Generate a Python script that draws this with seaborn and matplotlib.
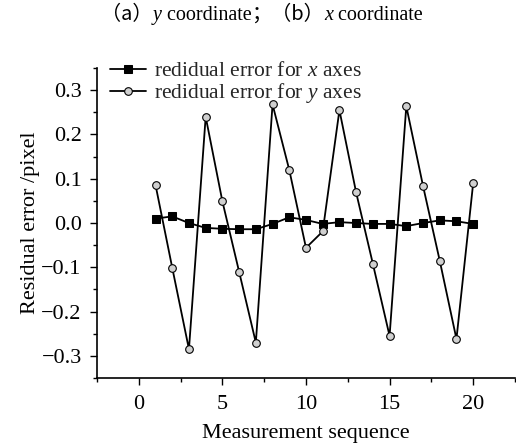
import matplotlib
matplotlib.use("Agg")
import matplotlib.pyplot as plt
import seaborn as sns
import pandas as pd
import numpy as np
from matplotlib.ticker import MultipleLocator

sequence = list(range(1, 21))
x_err = [0.010, 0.015, 0.000, -0.011, -0.013, -0.014, -0.014, -0.002, 0.013, 0.007,
         -0.002, 0.002, 0.000, -0.002, -0.002, -0.007, 0.000, 0.006, 0.004, -0.002]
y_err = [0.086, -0.101, -0.285, 0.240, 0.049, -0.110, -0.270, 0.268, 0.120, -0.056,
         -0.019, 0.255, 0.069, -0.092, -0.255, 0.264, 0.084, -0.085, -0.262, 0.090]
label_x = "redidual error for $\\mathit{x}$ axes"
label_y = "redidual error for $\\mathit{y}$ axes"

sns.set_theme(style="ticks")
plt.rcParams["font.family"] = ["Liberation Serif", "DejaVu Serif"]
plt.rcParams["mathtext.fontset"] = "custom"
plt.rcParams["mathtext.rm"] = "Liberation Serif"
plt.rcParams["mathtext.it"] = "Liberation Serif:italic"

fig = plt.figure(figsize=(5.16, 4.45), dpi=100)
ax = fig.add_axes([0.188, 0.1506, 0.810, 0.6964])

df_x = pd.DataFrame({"seq": sequence, "err": x_err})
df_y = pd.DataFrame({"seq": sequence, "err": y_err})

sns.lineplot(data=df_x, x="seq", y="err", ax=ax, color="black", lw=1.3,
             marker="s", markersize=6, markerfacecolor="black",
             markeredgecolor="black", label=label_x)
sns.lineplot(data=df_y, x="seq", y="err", ax=ax, color="black", lw=1.3,
             marker="o", markersize=5.5, markerfacecolor="#d0d0d0",
             markeredgecolor="black", markeredgewidth=0.8, label=label_y)

ax.set_xlim(-2.5, 22.5)
ax.set_ylim(-0.35, 0.35)
ax.xaxis.set_major_locator(MultipleLocator(5))
ax.xaxis.set_minor_locator(MultipleLocator(2.5))
ax.yaxis.set_minor_locator(MultipleLocator(0.05))
ax.set_yticks([-0.3, -0.2, -0.1, 0.0, 0.1, 0.2, 0.3])
ax.set_yticklabels(["\u22120.3", "\u22120.2", "\u22120.1", "0.0", "0.1", "0.2", "0.3"])
ax.tick_params(axis="both", which="major", direction="out", length=5, width=1,
               labelsize=16, color="black", labelcolor="black")
ax.tick_params(axis="x", which="major", pad=7)
ax.tick_params(axis="y", which="major", pad=6)
ax.tick_params(axis="both", which="minor", direction="out", length=3, width=1,
               color="black")
for s in ["top", "right"]:
    ax.spines[s].set_visible(False)
for s in ["left", "bottom"]:
    ax.spines[s].set_color("black")
    ax.spines[s].set_linewidth(1.2)

ax.set_xlabel("Measurement sequence", fontsize=16, color="black")
ax.set_ylabel("Residual error /pixel", fontsize=16, color="black")
ax.xaxis.set_label_coords(0.5, -0.150)
ax.yaxis.set_label_coords(-0.136, 0.5)

leg = ax.legend(loc="upper left", bbox_to_anchor=(0.01, 1.05), frameon=False,
                fontsize=15.5, handlelength=1.7, handletextpad=0.35,
                labelspacing=0.0, borderaxespad=0)

# Title built from pieces (CJK punctuation + italic variables)
pieces = [
    ("（a）", ["Noto Sans CJK SC"], "normal"),
    ("y", ["Liberation Serif"], "italic"),
    (" coordinate", ["Liberation Serif"], "normal"),
    ("；（b）", ["Noto Sans CJK SC"], "normal"),
    ("x", ["Liberation Serif"], "italic"),
    (" coordinate", ["Liberation Serif"], "normal"),
]
fig.canvas.draw()
renderer = fig.canvas.get_renderer()
texts = []
for s, fam, sty in pieces:
    t = fig.text(0, 0, s, family=fam, style=sty, fontsize=14.5, color="black",
                 ha="left", va="baseline")
    texts.append(t)
widths = [t.get_window_extent(renderer).width for t in texts]
total = sum(widths)
x0 = 262 - total / 2
base_y = 445 - 20
for t, w in zip(texts, widths):
    t.set_position((x0 / 516, base_y / 445))
    x0 += w

fig.savefig("out.png", dpi=100)
